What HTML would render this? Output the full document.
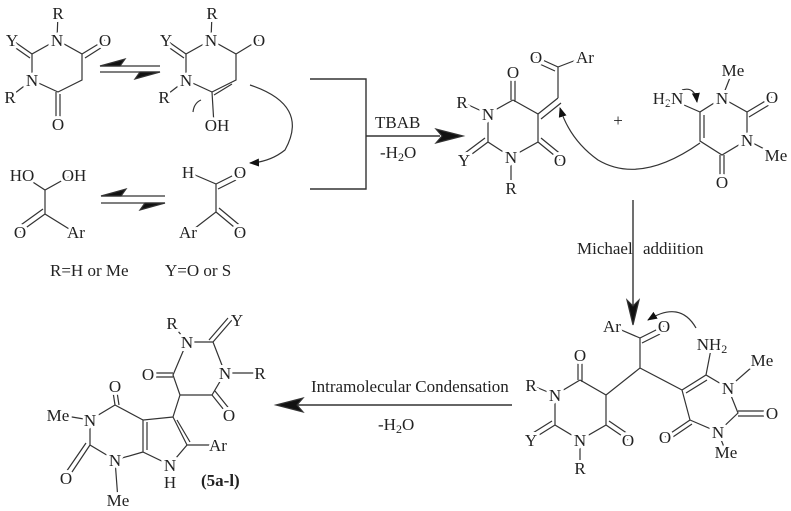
<!DOCTYPE html>
<html><head><style>
html,body{margin:0;padding:0;background:#fff;}
svg{display:block;}
text{font-family:"Liberation Serif",serif;font-size:17px;fill:#222;}
.a{text-anchor:middle;stroke:#fff;stroke-width:6px;paint-order:stroke;stroke-linejoin:round;}
</style></head><body>
<svg width="791" height="511" viewBox="0 0 791 511" xmlns="http://www.w3.org/2000/svg">
<defs>
<marker id="ah" markerWidth="10" markerHeight="8" refX="9" refY="4" orient="auto" markerUnits="userSpaceOnUse"><path d="M0,0 L10,4 L0,8 Z" fill="#111"/></marker>
</defs>
<g stroke="#333" stroke-width="1.2" fill="none">
<!-- mol1 -->
<path d="M58,13 L57,40 L82,54 L82,80 L58,92 L32,80 L32,54 L57,40 M32,80 L10,97 M56,92 L56,117 M60,94 L60,117 M82,54 L105,40 M85,58 L107,44 M32,54 L12,40 M30,58 L10,44"/>
<path d="M100,66 L160,66 M100,72 L160,72"/>
<path d="M100,66 L125,59 L120,66 Z M160,72 L135,79 L140,72 Z" fill="#111"/>
<!-- mol2 -->
<path d="M212,13 L211,40 L236,54 L236,80 L212,92 L186,80 L186,54 L211,40 M186,80 L164,97 M212,92 L214,125 M236,54 L259,40 M232,84 L214,95 M186,54 L166,40 M184,58 L164,44"/>
<path d="M193,112 Q194,103 201,100"/>
<path d="M250,85 Q310,105 285,150 Q270,162 250,163" marker-end="url(#ah)"/>
<!-- hydrate -->
<path d="M22,175 L45,190 L72,175 M45,190 L45,214 L74,232 M45,214 L20,232 M43,209 L18,227"/>
<path d="M101,196 L165,196 M101,203 L165,203"/>
<path d="M101,196 L126,189 L121,196 Z M165,203 L140,210 L145,203 Z" fill="#111"/>
<!-- glyoxal -->
<path d="M188,172 L216,184 L216,212 L190,232 M216,184 L240,172 M218,189 L242,177 M216,212 L240,232 M219,208 L243,228"/>
<!-- bracket -->
<path d="M310,79 L366,79 L366,189 L310,189 M366,136 L440,136" stroke-width="1.4"/>
<path d="M463,136 L436,129 L442,136 L436,143 Z" fill="#111"/>
<!-- product 1 -->
<path d="M511,80 L511,100 M515,80 L515,102 M513,100 L538,114 L538,142 L511,157 L488,142 L488,114 L513,100 M538,142 L560,160 M541,138 L563,156 M511,157 L511,188 M488,114 L462,102 M488,142 L464,160 M485,138 L461,156 M538,114 L558,98 M541,119 L561,103 M558,98 L558,67 L536,57 M555,71 L533,61 M558,67 L584,57"/>
<!-- aminouracil -->
<path d="M733,70 L722,98 L747,112 L747,140 L722,155 L700,141 L700,112 L722,98 M747,112 L772,97 M749,117 L774,102 M747,140 L776,155 M720,155 L720,176 M724,155 L724,176 M704,138 L704,115 M700,112 L668,98"/>
<path d="M682,90 Q695,86 697,102" marker-end="url(#ah)"/>
<path d="M700,143 Q640,185 598,160 Q570,140 560,108" marker-end="url(#ah)"/>
<!-- michael arrow -->
<path d="M633,200 L633,305" stroke-width="1.4"/>
<path d="M633,325 L627,300 L633,306 L639,300 Z" fill="#111"/>
<!-- intermediate -->
<path d="M612,326 L640,338 L664,326 M642,343 L666,331 M640,338 L640,368 L606,395 M640,368 L682,390 M578,362 L578,380 M582,362 L582,382 M580,380 L606,395 L606,425 L580,440 L555,425 L555,395 L580,380 M606,425 L628,440 M609,421 L631,436 M580,440 L580,468 M555,395 L531,385 M555,425 L531,440 M552,421 L528,436 M682,390 L706,375 L728,388 L738,413 L718,432 L690,420 L682,390 M686,393 L707,380 M706,375 L712,344 M728,388 L760,360 M738,411 L772,411 M738,416 L772,416 M718,432 L726,452 M690,420 L665,437 M692,424 L667,441"/>
<path d="M696,328 Q680,300 648,320" marker-end="url(#ah)"/>
<!-- condensation arrow -->
<path d="M512,405 L295,405" stroke-width="1.4"/>
<path d="M276,405 L303,398 L297,405 L303,412 Z" fill="#111"/>
<!-- final product -->
<path d="M173,325 L187,342 L213,342 L225,373 L212,395 L180,395 L173,375 L187,342 M213,342 L232,320 M209,340 L228,318 M225,373 L258,373 M212,395 L228,415 M215,391 L231,411 M173,373 L150,373 M173,377 L150,377 M180,395 L173,417 L187,445 L170,465 L143,452 L143,420 L173,417 M177,420 L190,442 M187,445 L210,445 M147,422 L147,450 M143,420 L115,405 L113,392 M117,392 L119,405 M115,405 L90,420 L90,445 L115,460 L143,452 M90,420 L60,415 M90,445 L68,478 M86,443 L64,475 M115,460 L118,500"/>
</g>
<g>
<text class="a" x="58" y="19">R</text><text class="a" x="57" y="46">N</text><text class="a" x="105" y="46">O</text><text class="a" x="12" y="46">Y</text>
<text class="a" x="32" y="86">N</text><text class="a" x="10" y="103">R</text><text class="a" x="58" y="130">O</text>
<text class="a" x="212" y="19">R</text><text class="a" x="211" y="46">N</text><text class="a" x="259" y="46">O</text><text class="a" x="166" y="46">Y</text>
<text class="a" x="186" y="86">N</text><text class="a" x="164" y="103">R</text><text class="a" x="217" y="131">OH</text>
<text class="a" x="22" y="181">HO</text><text class="a" x="74" y="181">OH</text><text class="a" x="20" y="238">O</text><text class="a" x="76" y="238">Ar</text>
<text class="a" x="188" y="178">H</text><text class="a" x="240" y="178">O</text><text class="a" x="188" y="238">Ar</text><text class="a" x="240" y="238">O</text>
<text x="50" y="276">R=H or Me</text><text x="165" y="276">Y=O or S</text>
<text x="375" y="128">TBAB</text><text x="380" y="158">-H<tspan font-size="12" dy="3">2</tspan><tspan dy="-3">O</tspan></text>
<text class="a" x="513" y="78">O</text><text class="a" x="462" y="108">R</text><text class="a" x="488" y="120">N</text><text class="a" x="464" y="166">Y</text>
<text class="a" x="511" y="163">N</text><text class="a" x="511" y="194">R</text><text class="a" x="560" y="166">O</text>
<text class="a" x="536" y="63">O</text><text class="a" x="585" y="63">Ar</text>
<text class="a" x="618" y="126">+</text>
<text class="a" x="733" y="76">Me</text><text class="a" x="722" y="104">N</text><text class="a" x="772" y="103">O</text><text class="a" x="747" y="146">N</text>
<text class="a" x="776" y="161">Me</text><text class="a" x="722" y="188">O</text><text class="a" x="668" y="104">H<tspan font-size="12" dy="3">2</tspan><tspan dy="-3">N</tspan></text>
<text x="577" y="254">Michael</text><text x="643" y="254">addiition</text>
<text class="a" x="612" y="332">Ar</text><text class="a" x="664" y="332">O</text><text class="a" x="712" y="350">NH<tspan font-size="12" dy="3">2</tspan></text>
<text class="a" x="762" y="366">Me</text><text class="a" x="728" y="394">N</text><text class="a" x="772" y="419">O</text><text class="a" x="718" y="438">N</text>
<text class="a" x="726" y="458">Me</text><text class="a" x="665" y="443">O</text>
<text class="a" x="580" y="361">O</text><text class="a" x="531" y="391">R</text><text class="a" x="555" y="401">N</text><text class="a" x="531" y="446">Y</text>
<text class="a" x="580" y="446">N</text><text class="a" x="580" y="474">R</text><text class="a" x="628" y="446">O</text>
<text x="311" y="392">Intramolecular Condensation</text>
<text x="378" y="430">-H<tspan font-size="12" dy="3">2</tspan><tspan dy="-3">O</tspan></text>
<text class="a" x="172" y="329">R</text><text class="a" x="237" y="326">Y</text><text class="a" x="187" y="348">N</text><text class="a" x="225" y="379">N</text><text class="a" x="260" y="379">R</text>
<text class="a" x="148" y="380">O</text><text class="a" x="115" y="392">O</text><text class="a" x="58" y="421">Me</text><text class="a" x="90" y="426">N</text>
<text class="a" x="229" y="421">O</text><text class="a" x="218" y="451">Ar</text><text class="a" x="66" y="484">O</text><text class="a" x="115" y="466">N</text>
<text class="a" x="170" y="471">N</text><text class="a" x="170" y="488">H</text><text class="a" x="118" y="506">Me</text>
<text x="201" y="486" font-weight="bold">(5a-l)</text>
</g>
</svg>
</body></html>
